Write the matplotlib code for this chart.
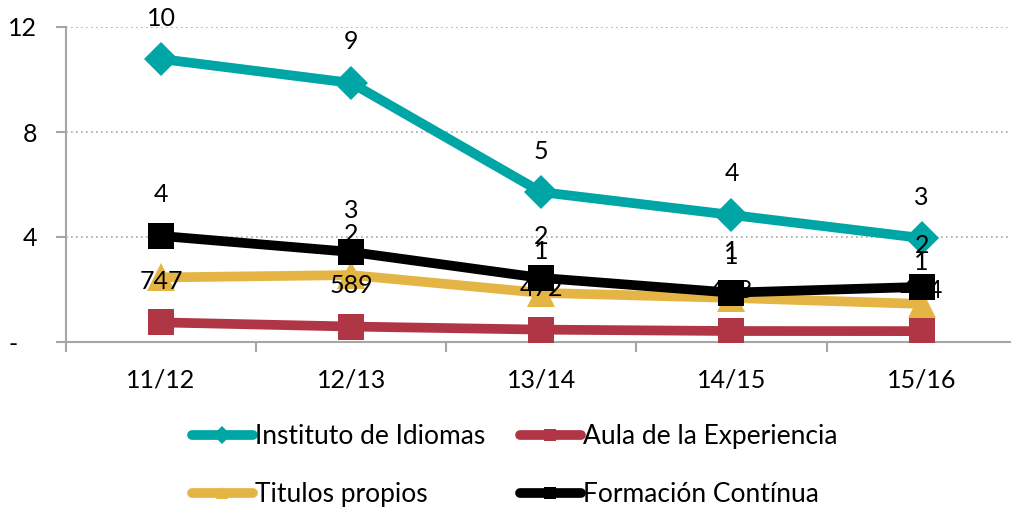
import matplotlib
matplotlib.use("Agg")
import matplotlib.pyplot as plt
from matplotlib.lines import Line2D

plt.rcParams['font.family'] = ['Lato', 'DejaVu Sans']

categories = ["11/12", "12/13", "13/14", "14/15", "15/16"]

instituto = [10.78, 9.87, 5.71, 4.84, 3.96]
aula = [0.747, 0.589, 0.472, 0.418, 0.414]
titulos = [2.46, 2.55, 1.87, 1.68, 1.45]
formacion = [4.04, 3.43, 2.44, 1.88, 2.10]

instituto_labels = ["10", "9", "5", "4", "3"]
aula_labels = ["747", "589", "472", "418", "414"]
titulos_labels = ["2", "2", "1", "1", "1"]
formacion_labels = ["4", "3", "2", "1", "2"]

yticks = [0, 4, 8, 12]
ytick_labels = ["-   ", "4", "8", "12"]

series_names = ["Instituto de Idiomas", "Aula de la Experiencia",
                "Titulos propios", "Formación Contínua"]
colors = ["#00A5A6", "#B03545", "#E4B545", "#000000"]
markers = ["D", "s", "^", "s"]
msizes = [17, 19, 20, 19]

fig = plt.figure(figsize=(10.11, 5.07), dpi=100)
ax = fig.add_axes([66/1011, 1-342/507, 1-66/1011, (342-27)/507])

x = list(range(len(categories)))
data = [instituto, aula, titulos, formacion]
labels = [instituto_labels, aula_labels, titulos_labels, formacion_labels]
line_z = [2, 3, 4, 6]
label_z = [5, 5, 5, 7]

for vals, labs, c, m, ms, lz, tz in zip(data, labels, colors, markers, msizes, line_z, label_z):
    ax.plot(x, vals, color=c, lw=7, marker=m, markersize=ms,
            markeredgewidth=0, zorder=lz, solid_capstyle='round')
    for xi, v, t in zip(x, vals, labs):
        ax.annotate(t, (xi, v), xytext=(0, 29.5), textcoords='offset points',
                    ha='center', va='center', fontsize=18, color='black', zorder=tz)

ax.set_xlim(-0.5, 4.47)
ax.set_ylim(0, 12)

gray = '#A6A6A6'
for s in ['top', 'right']:
    ax.spines[s].set_visible(False)
for s in ['left', 'bottom']:
    ax.spines[s].set_color(gray)
    ax.spines[s].set_linewidth(1.5)

ax.set_yticks(yticks)
ax.set_yticklabels(ytick_labels)
ax.tick_params(axis='y', length=7, width=1.5, color=gray, pad=14, labelsize=18)
ax.yaxis.grid(True, linestyle=(0, (1, 2)), color=gray, lw=1.2)
ax.set_axisbelow(True)

ax.set_xticks([i - 0.5 for i in range(len(categories))])
ax.set_xticklabels([])
ax.set_xticks(x, minor=True)
ax.set_xticklabels(categories, minor=True)
ax.tick_params(axis='x', which='major', length=7, width=1.5, color=gray)
ax.tick_params(axis='x', which='minor', length=0, pad=19, labelsize=18)

handles = [Line2D([], [], color=c, lw=7, marker=m, markersize=9,
                  markeredgewidth=0, solid_capstyle='round')
           for c, m in zip(colors, markers)]
order = [0, 2, 1, 3]
fig.legend([handles[i] for i in order], [series_names[i] for i in order],
           ncol=2, loc='upper left', bbox_to_anchor=(192/1011, 1-424/507),
           frameon=False, fontsize=19, handlelength=2.3, handletextpad=0.1,
           columnspacing=1.3, labelspacing=1.25, borderpad=0, borderaxespad=0)

fig.savefig("out.png", dpi=100)
